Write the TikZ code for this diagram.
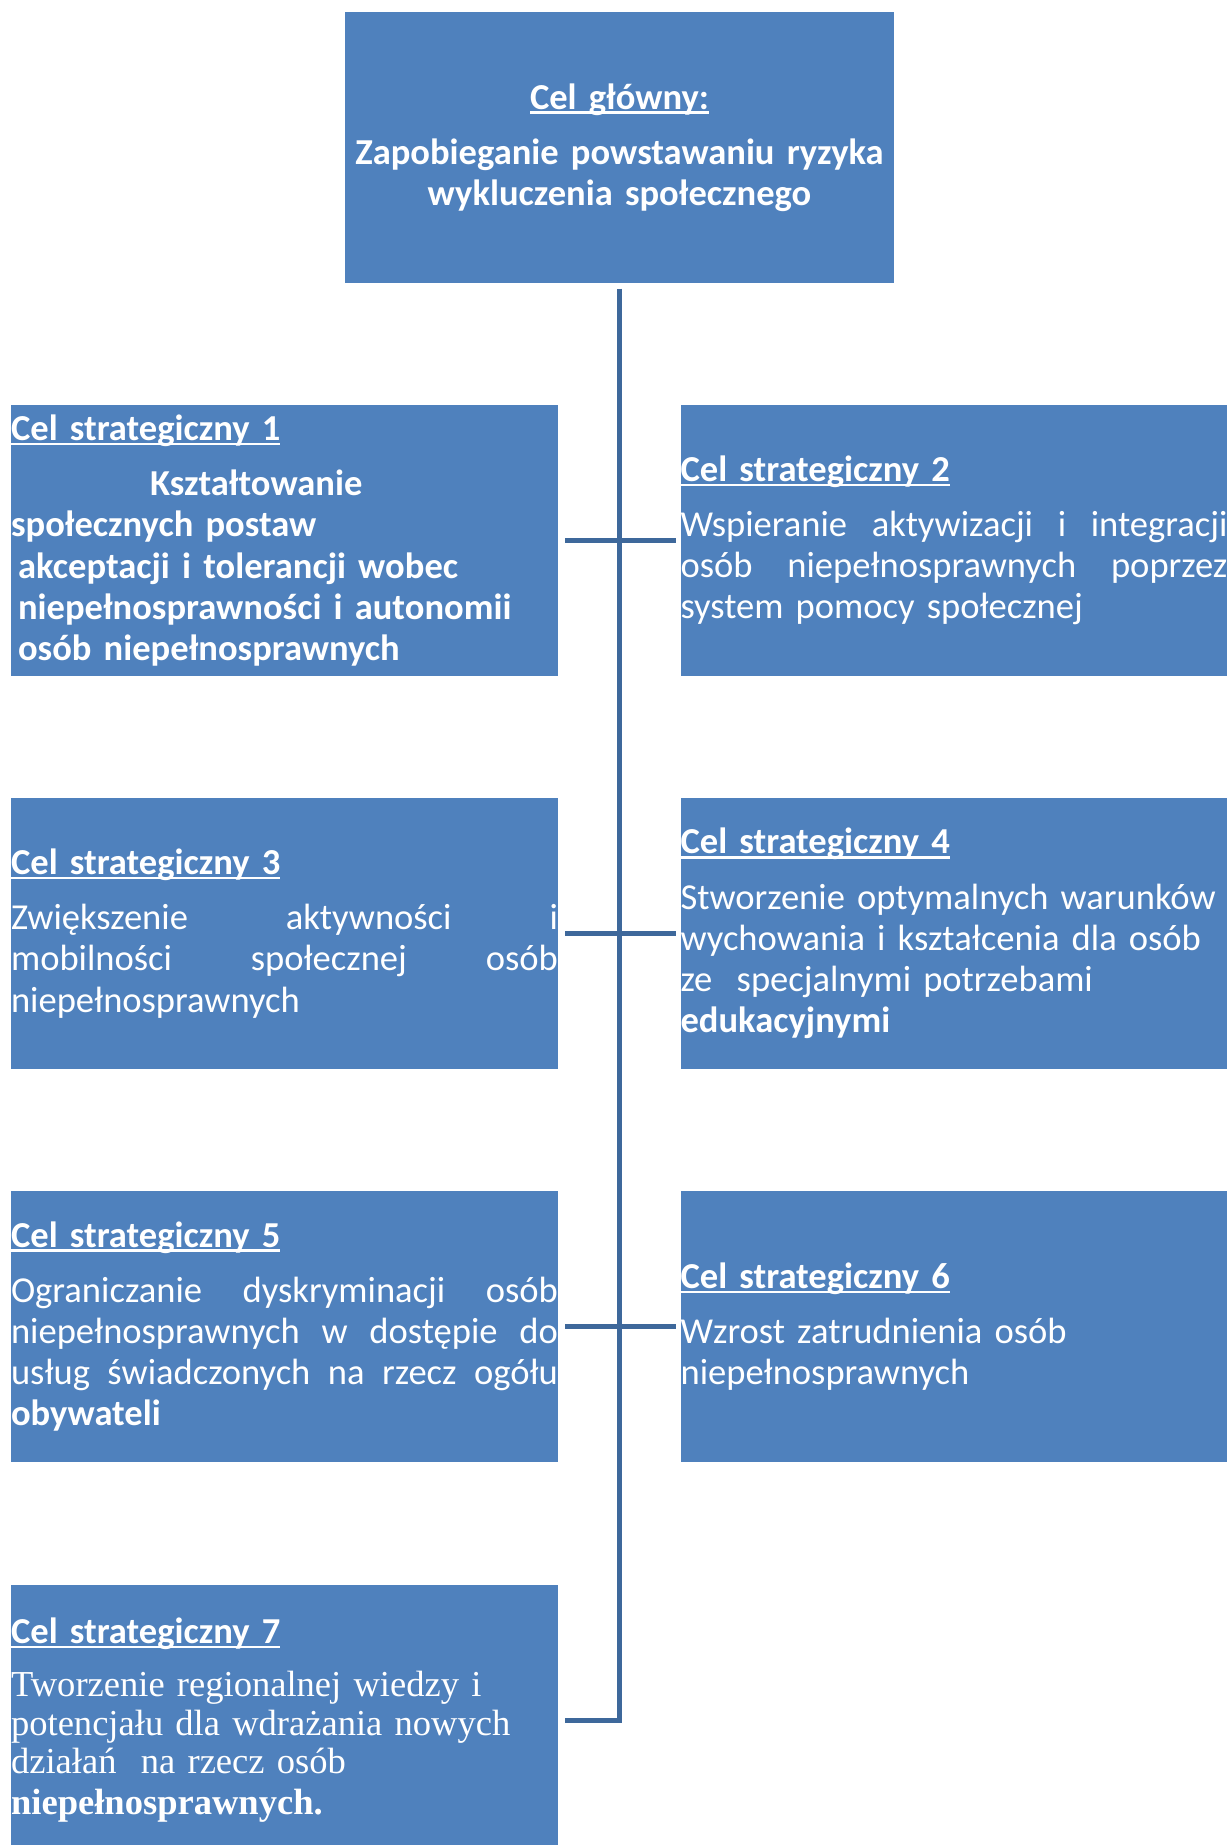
\documentclass[tikz,border=0pt]{standalone}
\usepackage{fontspec}
\setmainfont{Carlito}[WordSpace=0.8]
\newfontfamily\timesfont{Liberation Serif}
\definecolor{boxblue}{HTML}{4F81BD}
\definecolor{lineblue}{HTML}{3E689B}
\tikzset{goal/.style={rectangle, fill=boxblue, text=white, text width=10.94cm,
    minimum height=5.42cm, inner xsep=0pt, inner ysep=0pt, align=left,
    font=\fontsize{20.8}{23.4}\selectfont}}
\tikzset{link/.style={draw=lineblue, line width=2.7pt}}
\newcommand{\podkr}[1]{\setbox0\hbox{#1}\rlap{\rule[-2.6pt]{\wd0}{1.3pt}}\box0}

\begin{document}
\begin{tikzpicture}[x=0.02cm,y=-0.02cm]
  \useasboundingbox (0,0) rectangle (1229,1845);
  \clip (0,0) rectangle (1229,1845);
  % main goal
  \node[goal, text width=10.98cm, align=center, font=\bfseries\fontsize{20.8}{23.4}\selectfont]
    (top) at (619.5,147.5) {\podkr{Cel główny:}\\[8pt]
    Zapobieganie powstawaniu ryzyka\\ wykluczenia społecznego};
  % strategic goals
  \node[goal] (c1) at (284.5,540.5) {\bfseries\podkr{Cel strategiczny 1}\\[8pt]
    \hspace*{2.78cm}Kształtowanie\\
    społecznych postaw\\
    \hspace*{0.14cm}akceptacji i tolerancji wobec\\
    \hspace*{0.14cm}niepełnosprawności i autonomii\\
    \hspace*{0.14cm}osób niepełnosprawnych};
  \node[goal] (c2) at (954,540.5) {\textbf{\podkr{Cel strategiczny 2}}\\[8pt]
    Wspieranie\hfill aktywizacji\hfill i\hfill integracji\\
    osób\hfill niepełnosprawnych\hfill poprzez\\
    system pomocy społecznej};
  \node[goal] (c3) at (284.5,933.5) {\textbf{\podkr{Cel strategiczny 3}}\\[8pt]
    Zwiększenie\hfill aktywności\hfill i\\
    mobilności\hfill społecznej\hfill osób\\
    niepełnosprawnych};
  \node[goal] (c4) at (954,933.5) {\textbf{\podkr{Cel strategiczny 4}}\\[8pt]
    Stworzenie optymalnych warunków\\
    wychowania i kształcenia dla osób\\
    ze\ \ specjalnymi potrzebami\\
    \textbf{edukacyjnymi}};
  \node[goal] (c5) at (284.5,1326.5) {\textbf{\podkr{Cel strategiczny 5}}\\[8pt]
    Ograniczanie\hfill dyskryminacji\hfill osób\\
    niepełnosprawnych\hfill w\hfill dostępie\hfill do\\
    usług\hfill świadczonych\hfill na\hfill rzecz\hfill ogółu\\
    \textbf{obywateli}};
  \node[goal] (c6) at (954,1326.5) {\textbf{\podkr{Cel strategiczny 6}}\\[8pt]
    Wzrost zatrudnienia osób\\
    niepełnosprawnych};
  \node[goal] (c7) at (284.5,1720.5) {\textbf{\podkr{Cel strategiczny 7}}\\[8pt]
    {\timesfont\fontsize{20.8}{22}\selectfont Tworzenie regionalnej wiedzy i\\
    potencjału dla wdrażania nowych\\
    działań\ \ na rzecz osób\\
    \textbf{niepełnosprawnych.}}};
  % connectors
  \draw[link] ([yshift=-3pt]top.south) -- (top.south |- c7.east) -- ([xshift=4pt]c7.east);
  \foreach \l/\r in {c1/c2, c3/c4, c5/c6}
    \draw[link] ([xshift=4pt]\l.east) -- ([xshift=-2.3pt]\r.west);
\end{tikzpicture}
\end{document}
